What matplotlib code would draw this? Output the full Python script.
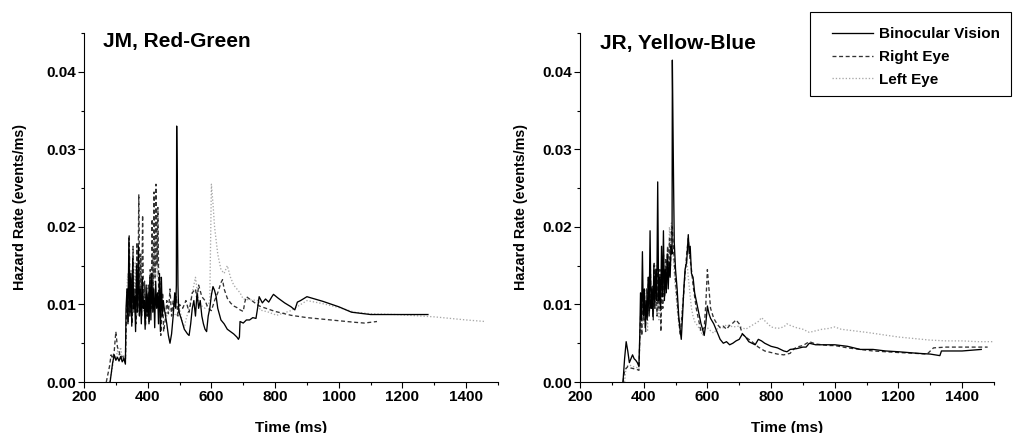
import matplotlib
matplotlib.use('Agg')
import matplotlib.pyplot as plt
from matplotlib.ticker import MultipleLocator, FormatStrFormatter
from matplotlib.lines import Line2D
from matplotlib.patches import Rectangle

plt.rcParams['font.family'] = ['Liberation Sans', 'DejaVu Sans']
plt.rcParams['font.weight'] = 'bold'

# JM, Red-Green -- binocular vision
jm_bin_t = [282, 290, 295, 300, 305, 310, 315, 320, 325, 330, 332, 335, 338, 341, 344, 347, 350, 353,
            356, 359, 362, 365, 368, 371, 374, 377, 380, 383, 386, 389, 392, 395, 398, 401, 404, 407,
            410, 413, 416, 419, 422, 425, 428, 431, 434, 437, 440, 443, 446, 449, 452, 456, 460, 465,
            470, 475, 480, 485, 488, 490, 491, 493, 495, 497, 500, 505, 510, 515, 520, 525, 530, 535,
            540, 545, 550, 555, 560, 565, 570, 575, 580, 585, 590, 595, 600, 605, 610, 615, 620, 630,
            640, 650, 660, 670, 680, 685, 688, 690, 700, 710, 720, 730, 740, 745, 750, 760, 770, 780,
            790, 795, 810, 830, 850, 862, 870, 880, 900, 950, 1000, 1040, 1080, 1100, 1150, 1200, 1280]
jm_bin_v = [0.0, 0.0025, 0.0035, 0.0028, 0.0032, 0.0027, 0.0033, 0.0026, 0.003, 0.0023, 0.0095, 0.012,
            0.0075, 0.0185, 0.0085, 0.014, 0.0072, 0.016, 0.0095, 0.011, 0.0065, 0.015, 0.009, 0.0175,
            0.0085, 0.012, 0.0075, 0.0135, 0.0095, 0.0105, 0.0068, 0.0125, 0.0085, 0.0115, 0.0075, 0.0135,
            0.008, 0.014, 0.009, 0.012, 0.007, 0.013, 0.0095, 0.0115, 0.0075, 0.014, 0.0065, 0.0135,
            0.0085, 0.0105, 0.0095, 0.0085, 0.0075, 0.006, 0.005, 0.0062, 0.0085, 0.0115, 0.0095, 0.0125,
            0.033, 0.0235, 0.0125, 0.0095, 0.0088, 0.0082, 0.0075, 0.0068, 0.0065, 0.0062, 0.006, 0.0075,
            0.0095, 0.0105, 0.0085, 0.0115, 0.0095, 0.0105, 0.0085, 0.0075, 0.0068, 0.0065, 0.0085, 0.0095,
            0.0112, 0.0123, 0.0118, 0.011, 0.0095, 0.008, 0.0075, 0.0068, 0.0065, 0.0062, 0.0058, 0.0055,
            0.0058, 0.0078, 0.0076, 0.008, 0.008, 0.0083, 0.0082, 0.0095, 0.011, 0.0102, 0.0107, 0.0103,
            0.011, 0.0113, 0.0108, 0.0102, 0.0097, 0.0093, 0.0103, 0.0105, 0.011, 0.0104, 0.0097, 0.009,
            0.0088, 0.0087, 0.0087, 0.0087, 0.0087]

# JM -- right eye
jm_re_t = [270, 280, 285, 290, 295, 300, 305, 310, 315, 320, 325, 330, 333, 336, 339, 342, 345, 348,
           351, 354, 357, 360, 363, 366, 369, 372, 375, 378, 381, 384, 387, 390, 393, 396, 399, 402,
           405, 408, 411, 414, 417, 420, 423, 426, 429, 432, 435, 438, 441, 444, 447, 450, 455, 460,
           465, 470, 475, 480, 485, 490, 495, 500, 510, 520, 530, 540, 550, 555, 560, 570, 580, 590,
           600, 610, 620, 630, 635, 640, 650, 660, 670, 680, 690, 700, 705, 710, 730, 750, 800, 850,
           900, 950, 1000, 1050, 1080, 1120]
jm_re_v = [0.0, 0.002, 0.0035, 0.003, 0.004, 0.0065, 0.0045, 0.004, 0.003, 0.0035, 0.003, 0.0028,
           0.008, 0.012, 0.0078, 0.019, 0.009, 0.0135, 0.0075, 0.0175, 0.009, 0.012, 0.0075, 0.018,
           0.0095, 0.0242, 0.0105, 0.0165, 0.0085, 0.0215, 0.0095, 0.013, 0.0072, 0.011, 0.0085, 0.0125,
           0.0078, 0.0145, 0.0095, 0.021, 0.0115, 0.0245, 0.0135, 0.0255, 0.015, 0.0225, 0.0095, 0.0135,
           0.006, 0.0085, 0.0115, 0.0065, 0.008, 0.0105, 0.0088, 0.012, 0.0085, 0.0105, 0.0095, 0.011,
           0.0085, 0.01, 0.0095, 0.0105, 0.009, 0.0115, 0.012, 0.0105, 0.0125, 0.011, 0.0105, 0.0095,
           0.0092, 0.0105, 0.0115, 0.0128, 0.0132, 0.012, 0.0108, 0.0102, 0.0098, 0.0096, 0.0093, 0.0091,
           0.0103, 0.011, 0.0104, 0.0098, 0.0091, 0.0086, 0.0083, 0.0081, 0.0079, 0.0077, 0.0076, 0.0078]

# JM -- left eye
jm_le_t = [280, 290, 295, 300, 305, 310, 315, 320, 325, 330, 334, 337, 340, 343, 346, 349, 352, 355,
           358, 361, 364, 367, 370, 373, 376, 379, 382, 385, 388, 391, 394, 397, 400, 403, 406, 409,
           412, 415, 418, 421, 424, 427, 430, 433, 436, 440, 445, 450, 460, 470, 480, 490, 500, 510,
           515, 520, 530, 540, 550, 555, 560, 570, 580, 590, 595, 598, 600, 605, 610, 620, 630, 640,
           650, 660, 670, 680, 690, 700, 720, 750, 752, 780, 805, 850, 900, 950, 1000, 1050, 1100,
           1180, 1300, 1400, 1460]
jm_le_v = [0.0, 0.002, 0.0035, 0.003, 0.004, 0.0035, 0.0045, 0.003, 0.0035, 0.0025, 0.0105, 0.014,
           0.0095, 0.0165, 0.0105, 0.0145, 0.0085, 0.0135, 0.01, 0.0155, 0.0095, 0.013, 0.0085, 0.0145,
           0.0095, 0.0125, 0.0085, 0.0115, 0.009, 0.0105, 0.0075, 0.0125, 0.009, 0.011, 0.0085, 0.0135,
           0.0105, 0.0165, 0.0115, 0.0185, 0.0125, 0.0225, 0.0135, 0.0195, 0.0105, 0.0095, 0.011, 0.0095,
           0.0085, 0.0095, 0.009, 0.0085, 0.0095, 0.0075, 0.007, 0.008, 0.0095, 0.0115, 0.0135, 0.012,
           0.0105, 0.0098, 0.0095, 0.01, 0.0105, 0.0195, 0.0255, 0.023, 0.02, 0.0165, 0.0145, 0.014,
           0.015, 0.0135, 0.0125, 0.012, 0.0115, 0.0107, 0.0106, 0.0105, 0.0093, 0.009, 0.0086, 0.0092,
           0.0105, 0.0101, 0.0096, 0.009, 0.0088, 0.0087, 0.0084, 0.008, 0.0078]

# JR, Yellow-Blue -- binocular vision
jr_bin_t = [335, 340, 345, 350, 355, 360, 365, 370, 375, 380, 385, 388, 390, 393, 396, 399, 402, 405,
            408, 411, 414, 417, 420, 423, 426, 429, 432, 435, 438, 441, 444, 447, 450, 453, 456, 459,
            462, 465, 468, 471, 474, 477, 480, 483, 486, 489, 490, 492, 494, 496, 500, 505, 510, 515,
            518, 522, 526, 530, 535, 540, 543, 546, 550, 555, 560, 565, 570, 575, 580, 585, 590, 595,
            600, 605, 610, 620, 630, 640, 650, 660, 670, 680, 690, 700, 710, 720, 730, 740, 750, 760,
            770, 780, 800, 820, 840, 850, 860, 880, 900, 910, 920, 940, 960, 1000, 1040, 1080, 1120,
            1160, 1200, 1260, 1300, 1330, 1335, 1400, 1460]
jr_bin_v = [0.0, 0.003, 0.0052, 0.004, 0.0025, 0.003, 0.0035, 0.003, 0.0028, 0.0025, 0.002, 0.0065,
            0.0115, 0.008, 0.0168, 0.0085, 0.012, 0.007, 0.0105, 0.008, 0.0135, 0.0085, 0.0195, 0.0095,
            0.012, 0.0085, 0.015, 0.0095, 0.0145, 0.0105, 0.0258, 0.0105, 0.0135, 0.0095, 0.0175, 0.011,
            0.0195, 0.0105, 0.0145, 0.0115, 0.0165, 0.012, 0.0155, 0.0135, 0.0175, 0.0165, 0.0415, 0.033,
            0.025, 0.018, 0.0145, 0.012, 0.0085, 0.0065, 0.0055, 0.0085, 0.012, 0.0145, 0.0155, 0.019,
            0.0165, 0.0175, 0.014, 0.0135, 0.0115, 0.0105, 0.0095, 0.0085, 0.0075, 0.0068, 0.006, 0.0075,
            0.0098, 0.0088, 0.0082, 0.0075, 0.0065, 0.0055, 0.005, 0.0052, 0.0048, 0.005, 0.0053, 0.0055,
            0.0062, 0.0058, 0.0052, 0.005, 0.0048, 0.0055, 0.0053, 0.005, 0.0046, 0.0044, 0.004, 0.0039,
            0.0042, 0.0043, 0.0045, 0.0045, 0.005, 0.0048, 0.0048, 0.0048, 0.0046, 0.0042, 0.0042, 0.004,
            0.0039, 0.0037, 0.0036, 0.0034, 0.004, 0.004, 0.0042]

# JR -- right eye
jr_re_t = [335, 340, 350, 360, 370, 380, 385, 388, 391, 394, 397, 400, 403, 406, 409, 412, 415, 418,
           421, 424, 427, 430, 433, 436, 439, 442, 445, 448, 451, 454, 457, 460, 463, 466, 469, 472,
           475, 478, 481, 484, 487, 490, 493, 496, 500, 505, 510, 515, 520, 525, 530, 535, 540, 545,
           550, 555, 560, 565, 570, 575, 580, 590, 595, 600, 605, 610, 620, 630, 640, 650, 660, 670,
           680, 690, 700, 710, 720, 740, 760, 780, 800, 820, 840, 860, 870, 880, 900, 920, 940, 980,
           1000, 1040, 1080, 1120, 1160, 1200, 1250, 1290, 1310, 1350, 1400, 1480]
jr_re_v = [0.0, 0.0015, 0.002, 0.0018, 0.0017, 0.0016, 0.0015, 0.006, 0.0095, 0.006, 0.0115, 0.008,
           0.0105, 0.0065, 0.012, 0.0085, 0.0135, 0.009, 0.0145, 0.0095, 0.0125, 0.008, 0.0155, 0.0105,
           0.0135, 0.0085, 0.0155, 0.0095, 0.0145, 0.0065, 0.0125, 0.0095, 0.0135, 0.011, 0.016, 0.0125,
           0.0175, 0.014, 0.0185, 0.015, 0.0195, 0.02, 0.0175, 0.0155, 0.013, 0.0105, 0.008, 0.006,
           0.0085, 0.011, 0.014, 0.0165, 0.0185, 0.016, 0.0145, 0.0125, 0.011, 0.0095, 0.0085, 0.0075,
           0.0065, 0.007, 0.01, 0.0145, 0.012, 0.0095, 0.0082, 0.0075, 0.007, 0.0072, 0.0068, 0.0073,
           0.0076, 0.008, 0.0075, 0.0062, 0.0058, 0.0052, 0.0045, 0.004, 0.0038, 0.0036, 0.0035, 0.0037,
           0.0042, 0.0045, 0.0047, 0.0052, 0.0049, 0.0047, 0.0047, 0.0044, 0.0042, 0.004, 0.0039, 0.0038,
           0.0037, 0.0036, 0.0044, 0.0045, 0.0045, 0.0045]

# JR -- left eye
jr_le_t = [340, 345, 355, 365, 375, 385, 388, 391, 394, 397, 400, 403, 406, 409, 412, 415, 418, 421,
           424, 427, 430, 433, 436, 439, 442, 445, 448, 451, 454, 457, 460, 463, 466, 469, 472, 475,
           478, 481, 484, 487, 490, 493, 496, 500, 505, 510, 515, 520, 525, 530, 535, 540, 545, 550,
           555, 560, 570, 580, 585, 590, 600, 610, 620, 630, 640, 650, 660, 680, 700, 720, 740, 760,
           770, 780, 800, 820, 840, 850, 860, 880, 900, 920, 940, 960, 980, 1000, 1020, 1060, 1100,
           1150, 1200, 1250, 1300, 1350, 1400, 1450, 1500]
jr_le_v = [0.0, 0.002, 0.0022, 0.002, 0.0019, 0.0018, 0.005, 0.0085, 0.006, 0.0105, 0.0075, 0.012,
           0.0085, 0.0115, 0.0065, 0.0125, 0.009, 0.014, 0.0095, 0.0125, 0.0085, 0.0135, 0.0095, 0.015,
           0.01, 0.0125, 0.008, 0.0135, 0.0095, 0.0145, 0.011, 0.0165, 0.012, 0.0155, 0.0135, 0.0175,
           0.0145, 0.02, 0.0165, 0.0205, 0.0185, 0.016, 0.014, 0.012, 0.0095, 0.0075, 0.0065, 0.009,
           0.0115, 0.0145, 0.016, 0.0135, 0.0115, 0.0095, 0.0085, 0.0078, 0.0072, 0.0065, 0.006, 0.0068,
           0.007, 0.0066, 0.0063, 0.0068, 0.0071, 0.007, 0.0074, 0.0071, 0.0072, 0.0068, 0.0073, 0.0078,
           0.0083, 0.0079, 0.0071, 0.0069, 0.0071, 0.0075, 0.0073, 0.007, 0.0068, 0.0064, 0.0066, 0.0068,
           0.0069, 0.0071, 0.0068, 0.0066, 0.0064, 0.0061, 0.0058, 0.0056, 0.0054, 0.0053, 0.0053, 0.0052,
           0.0052]

labels = ['Binocular Vision', 'Right Eye', 'Left Eye']
styles = [dict(color='black', ls='-', lw=0.95),
          dict(color='#333333', ls=(0, (3, 2)), lw=0.95),
          dict(color='#a8a8a8', ls=(0, (1, 1.5)), lw=0.95)]

panels = [
    ('JM, Red-Green', [(jm_bin_t, jm_bin_v), (jm_re_t, jm_re_v), (jm_le_t, jm_le_v)]),
    ('JR, Yellow-Blue', [(jr_bin_t, jr_bin_v), (jr_re_t, jr_re_v), (jr_le_t, jr_le_v)]),
]

fig = plt.figure(figsize=(10.13, 4.33), dpi=100)
W, H = 1013, 433
ax_lefts = [84, 580]
title_pos = [(103, 47), (600, 49)]
ylabel_x = [-0.138, -0.126]

for i, (title, series) in enumerate(panels):
    ax = fig.add_axes([ax_lefts[i] / W, 1 - 382 / H, 414 / W, 349 / H])
    # draw left eye first so the solid line sits on top
    for j in [2, 1, 0]:
        t, v = series[j]
        ax.plot(t, v, label=labels[j], **styles[j])
    ax.set_xlim(200, 1500)
    ax.set_ylim(0, 0.045)
    ax.xaxis.set_major_locator(MultipleLocator(200))
    ax.xaxis.set_minor_locator(MultipleLocator(100))
    ax.yaxis.set_major_locator(MultipleLocator(0.01))
    ax.yaxis.set_minor_locator(MultipleLocator(0.005))
    ax.yaxis.set_major_formatter(FormatStrFormatter('%.2f'))
    ax.spines['top'].set_visible(False)
    ax.spines['right'].set_visible(False)
    ax.tick_params(which='major', direction='out', length=4, width=0.8, labelsize=11, pad=2)
    ax.tick_params(which='minor', direction='out', length=2.5, width=0.8)
    for lab in ax.get_xticklabels() + ax.get_yticklabels():
        lab.set_fontweight('bold')
    ax.set_xlabel('Time (ms)', fontsize=11, fontweight='bold', labelpad=12)
    ax.set_ylabel('Hazard Rate (events/ms)', fontsize=10.3, fontweight='bold')
    ax.yaxis.set_label_coords(ylabel_x[i], 0.5)
    fig.text(title_pos[i][0] / W, 1 - title_pos[i][1] / H, title, fontsize=15,
             fontweight='bold', va='baseline', ha='left')

# legend box drawn as a plain rectangle so its size matches the reference
fig.patches.append(Rectangle((810 / W, 1 - 96 / H), 201 / W, 84 / H, transform=fig.transFigure,
                             facecolor='white', edgecolor='black', lw=0.8, zorder=5))
handles = [Line2D([], [], **s) for s in styles]
leg = fig.legend(handles, labels, loc='upper left', bbox_to_anchor=(832 / W, 1 - 27 / H),
                 frameon=False, borderaxespad=0, borderpad=0,
                 handlelength=2.7, handletextpad=0.35, labelspacing=0.58,
                 prop={'weight': 'bold', 'size': 11})
leg.set_zorder(6)

fig.savefig('out.png', dpi=100)
